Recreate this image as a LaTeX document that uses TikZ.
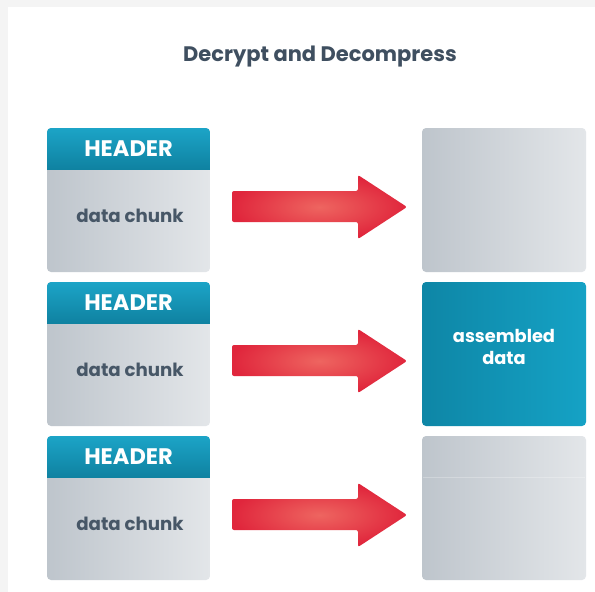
\documentclass[tikz,border=0pt]{standalone}
\usepackage{fontspec}
\setmainfont{Poppins}
\definecolor{bggray}{HTML}{F4F4F4}
\definecolor{titlecol}{HTML}{3F4F60}
\definecolor{chunkL}{HTML}{BEC5CC}
\definecolor{chunkR}{HTML}{E3E6E9}
\definecolor{hdrT}{HTML}{1CA4C7}
\definecolor{hdrB}{HTML}{0F82A1}
\definecolor{asmL}{HTML}{0E86A6}
\definecolor{asmR}{HTML}{15A2C5}
\definecolor{arrIn}{HTML}{EE6560}
\definecolor{arrOut}{HTML}{E0263C}
\definecolor{chunktxt}{HTML}{475767}
\tikzset{
  titletext/.style={font=\fontsize{21}{25}\selectfont\bfseries, text=titlecol, inner sep=0pt, anchor=base},
  hdrtext/.style={font=\fontsize{22.5}{26}\selectfont\bfseries, text=white, inner sep=0pt},
  chunktext/.style={font=\fontsize{18.2}{21}\selectfont\bfseries, text=chunktxt, inner sep=0pt},
  asmtext/.style={font=\fontsize{17.8}{22}\selectfont\bfseries, text=white, inner sep=0pt, align=center},
  redarrow/.style={inner color=arrIn, outer color=arrOut, rounded corners=2pt},
}
\begin{document}
\begin{tikzpicture}[x=1pt,y=-1pt]
\useasboundingbox (0,0) rectangle (595,592);
\fill[bggray] (0,0) rectangle (595,592);
\fill[white] (8,7) rectangle (595,592);
\node[titletext] (title) at (320,61) {Decrypt and Decompress};
\foreach \i/\y in {1/128,2/282,3/436}{
  \begin{scope}
    \clip[rounded corners=4pt] (47,\y) rectangle (210,{\y+144});
    \shade[left color=chunkL,right color=chunkR] (47,\y) rectangle (210,{\y+144});
    \shade[top color=hdrT,bottom color=hdrB] (47,\y) rectangle (210,{\y+41});
  \end{scope}
  \node[hdrtext] (h\i) at (128.5,{\y+21}) {HEADER};
  \node[chunktext] (c\i) at (130,{\y+88}) {data chunk};
  \shade[redarrow] (232,{\y+63}) -- (358,{\y+63}) -- (358,{\y+47}) -- (407,{\y+79})
     -- (358,{\y+111}) -- (358,{\y+94}) -- (232,{\y+94}) -- cycle;
}
% right column
\shade[left color=chunkL,right color=chunkR,rounded corners=4pt] (422,128) rectangle (586,272);
\shade[left color=asmL,right color=asmR,rounded corners=4pt] (422,282) rectangle (586,426);
\node[asmtext] (asm) at (504,347) {assembled\\data};
\shade[left color=chunkL,right color=chunkR,rounded corners=4pt] (422,436) rectangle (586,580);
\draw[white, opacity=0.25, line width=0.6pt] (423,477) -- (585,477);
\end{tikzpicture}
\end{document}
